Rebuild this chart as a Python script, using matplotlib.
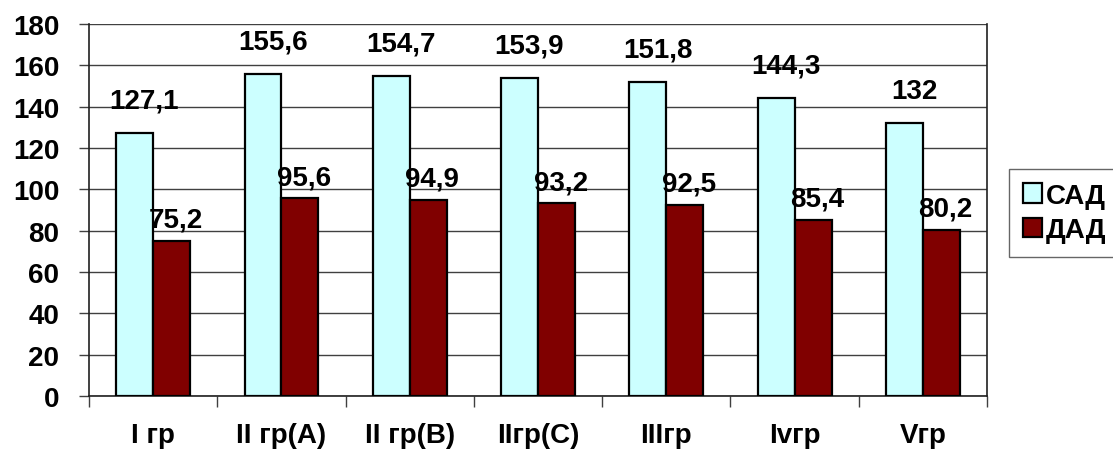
import numpy as np
import matplotlib
matplotlib.use('Agg')
import matplotlib.pyplot as plt
from matplotlib.patches import Patch

groups = ['I гр', 'II гр(A)', 'II гр(B)', 'IIгр(C)', 'IIIгр', 'Ivгр', 'Vгр']
sad = [127.1, 155.6, 154.7, 153.9, 151.8, 144.3, 132]
dad = [75.2, 95.6, 94.9, 93.2, 92.5, 85.4, 80.2]
series_names = ['САД', 'ДАД']

CYAN = '#CCFFFF'
DRED = '#800000'
FS = 20

plt.rcParams['font.family'] = ['Liberation Sans', 'DejaVu Sans']
plt.rcParams['font.weight'] = 'bold'

fig = plt.figure(figsize=(11.13, 4.52), dpi=100)
ax = fig.add_axes([0.080, 0.1217, 0.8068, 0.823])

x = np.arange(len(groups))
w = 0.288
b1 = ax.bar(x - w / 2, sad, w, color=CYAN, edgecolor='black', linewidth=1.6, zorder=3)
b2 = ax.bar(x + w / 2, dad, w, color=DRED, edgecolor='black', linewidth=1.6, zorder=3)

def fmt(v):
    return f'{v:g}'.replace('.', ',')

# подписи значений над столбцами
for bars, vals, dx, dy in [(b1, sad, 7, 14), (b2, dad, 3, 6)]:
    for bar, v in zip(bars, vals):
        ax.annotate(fmt(v), (bar.get_x() + bar.get_width() / 2, v),
                    xytext=(dx, dy), textcoords='offset points',
                    ha='center', va='bottom', fontsize=FS, fontweight='bold',
                    color='black', zorder=4)

ax.set_xlim(-0.5, len(groups) - 0.5)
ax.set_ylim(0, 180)
ax.set_yticks(np.arange(0, 181, 20))
ax.yaxis.grid(True, color='#404040', linewidth=1.0, zorder=0)

ax.set_xticks(x)
ax.set_xticklabels(groups)
ax.set_xticks(np.arange(-0.5, len(groups)), minor=True)
ax.tick_params(axis='x', which='major', length=0, pad=19, labelsize=FS)
ax.tick_params(axis='x', which='minor', length=8, width=1, color='#404040')
ax.tick_params(axis='y', length=7.5, width=1, color='#404040', labelsize=FS, pad=14)
for lab in ax.get_xticklabels() + ax.get_yticklabels():
    lab.set_fontweight('bold')

for s in ['left', 'bottom', 'right']:
    ax.spines[s].set_color('#202020')
    ax.spines[s].set_linewidth(1.2)
ax.spines['top'].set_visible(False)

handles = [Patch(facecolor=CYAN, edgecolor='black', linewidth=1.6),
           Patch(facecolor=DRED, edgecolor='black', linewidth=1.6)]
leg = fig.legend(handles, series_names, loc='upper left',
                 bbox_to_anchor=(1009 / 1113, 1 - 170 / 452),
                 frameon=True, fancybox=False, edgecolor='#404040',
                 prop={'size': FS, 'weight': 'bold'},
                 handlelength=0.7, handleheight=0.7, handletextpad=0.12,
                 borderpad=0.5, labelspacing=0.3, borderaxespad=0)
leg.get_frame().set_linewidth(1.0)

fig.savefig('out.png', dpi=100, facecolor='white')
